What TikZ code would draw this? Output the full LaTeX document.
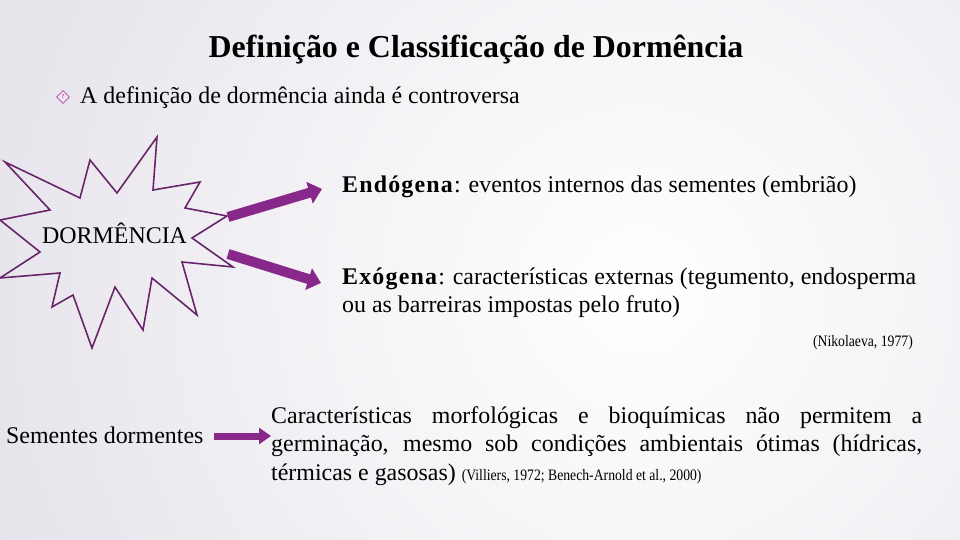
\documentclass[tikz,border=0pt]{standalone}
\usepackage{fontspec}
\setmainfont{Liberation Serif}
\newfontfamily\narrowfont[FakeStretch=0.86]{Liberation Serif}
\usepackage{xcolor}
\usepackage{tikz}
\usetikzlibrary{calc,arrows.meta,shapes.geometric}

\definecolor{bgcol}{RGB}{224,221,230}
\definecolor{arrowpurple}{RGB}{136,40,138}
\definecolor{starpurple}{RGB}{104,38,106}
\definecolor{bulletpurple}{RGB}{170,80,170}

\begin{document}
\begin{tikzpicture}
    [%%%%%%%%%%%%%%%%%%%%%%%%%%%%%%
        x=1bp,y=-1bp,
        txt/.style={anchor=base west,inner sep=0pt,font=\fontsize{24}{29}\selectfont},
        cite/.style={anchor=base east,inner sep=0pt,font=\narrowfont\fontsize{16}{19}\selectfont},
        bigarrow/.style={draw=arrowpurple,line width=10bp,-{Triangle[length=13bp,width=22bp]}},
        smallarrow/.style={draw=arrowpurple,line width=7bp,-{Triangle[length=12bp,width=16bp]}},
        starline/.style={draw=starpurple,line width=1.6bp,line join=miter},
        qdiamond/.style={diamond,draw=bulletpurple,fill=bulletpurple!15,line width=0.8bp,inner sep=0pt,minimum size=13bp,font=\fontsize{6}{6}\selectfont\bfseries,text=bulletpurple},
    ]%%%%%%%%%%%%%%%%%%%%%%%%%%%%%%

% background
\useasboundingbox (0,0) rectangle (960,540);
\fill[bgcol] (0,0) rectangle (960,540);
\begin{scope}
\clip (0,0) rectangle (960,540);
\shade[inner color=white,outer color=bgcol] (640,290) circle (860);
\end{scope}

% title
\node[anchor=base,inner sep=0pt,font=\fontsize{32}{38}\selectfont\bfseries] (title) at (476,58)
    {Definição e Classificação de Dormência};

\node[qdiamond] (blt) at (63,97) {?};
\node[txt] (def) at (80,104) {A definição de dormência ainda é controversa};

% star
\draw[starline] (5,162) -- (80,198) -- (90,160) -- (117,193) -- (157,137) -- (153,190)
    -- (200,182) -- (185,208) -- (227,216) -- (192,238) -- (233,267) -- (182,262)
    -- (197,315) -- (152,278) -- (143,330) -- (115,287) -- (92,348) -- (73,295)
    -- (52,307) -- (60,273) -- (0,278) -- (40,252) -- (0,220) -- (50,210) -- cycle;
\node[txt] (dorm) at (42,244) {DORMÊNCIA};

\node[txt] (endo) at (342,193)
    {\textbf{\addfontfeature{LetterSpace=5}Endógena}: eventos internos das sementes (embrião)};
\node[txt,align=left] (exo) at (342,313)
    {\textbf{\addfontfeature{LetterSpace=5}Exógena}: características externas (tegumento, endosperma\\
     ou as barreiras impostas pelo fruto)};
\node[cite] (nik) at (913,347) {(Nikolaeva, 1977)};

\coordinate (s1) at (228,217);
\coordinate (e1) at (322,189);
\coordinate (s2) at (228,254);
\coordinate (e2) at (321,283);
\draw[bigarrow] (s1) -- (e1);
\draw[bigarrow] (s2) -- (e2);

% dormant seeds
\node[txt] (sem) at (6,443) {Sementes dormentes};
\node[txt,anchor=north west,text width=651bp,align=justify] (par) at (271,406)
    {\hyphenpenalty=10000\exhyphenpenalty=10000
     Características morfológicas e bioquímicas não permitem a\linebreak
     germinação, mesmo sob condições ambientais ótimas (hídricas,\linebreak
     térmicas e gasosas) {\narrowfont\fontsize{16}{19}\selectfont(Villiers, 1972; Benech-Arnold et al., 2000)}};
\draw[smallarrow] (214,436) -- (par.west |- 0,436);

\end{tikzpicture}
\end{document}
